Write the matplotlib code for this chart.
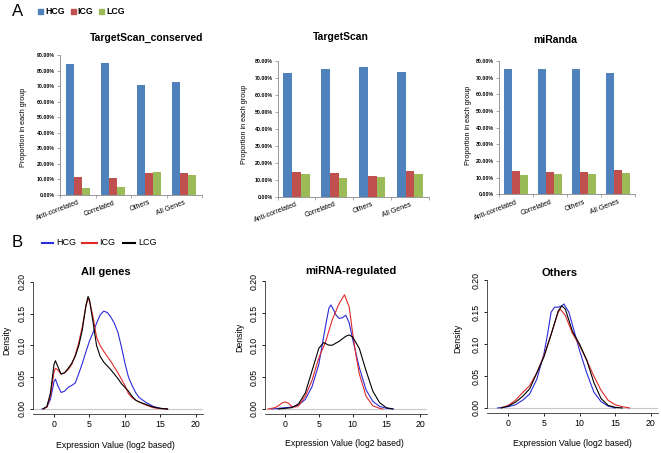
import numpy as np
import matplotlib
matplotlib.use("Agg")
import matplotlib.pyplot as plt
import matplotlib.transforms as mtransforms
from matplotlib.patches import Rectangle
from matplotlib.lines import Line2D

plt.rcParams['font.family'] = ['Liberation Sans', 'DejaVu Sans']

W, H = 661, 453

# ---- panel A data (percent) ----
categories = ['Anti-correlated', 'Correlated', 'Others', 'All Genes']
groups = ['HCG', 'ICG', 'LCG']
bar_colors = ['#4f81bd', '#c0504d', '#9bbb59']

ts_cons_hcg = [84.0, 84.6, 70.7, 72.4]
ts_cons_icg = [11.8, 10.7, 14.4, 14.4]
ts_cons_lcg = [4.3, 4.9, 15.0, 12.9]

ts_hcg = [72.9, 75.5, 76.3, 73.3]
ts_icg = [14.5, 13.9, 12.4, 14.9]
ts_lcg = [13.3, 11.2, 11.6, 13.3]

mir_hcg = [75.0, 75.0, 75.0, 73.0]
mir_icg = [14.0, 13.2, 13.2, 14.4]
mir_lcg = [11.4, 12.2, 12.2, 12.8]

# ---- panel B data (density curves) ----
all_hcg_x = [-1.7, -1, -0.5, 0, 0.2, 0.5, 1, 1.5, 2, 2.5, 3, 3.5, 4, 4.5, 5, 5.5, 6, 6.5, 7, 7.5,
             8, 8.5, 9, 9.5, 10, 10.5, 11, 11.5, 12, 13, 14, 15, 16]
all_hcg_y = [0, 0.003, 0.015, 0.043, 0.047, 0.038, 0.026, 0.028, 0.034, 0.037, 0.041, 0.056, 0.072,
             0.09, 0.107, 0.12, 0.135, 0.148, 0.154, 0.152, 0.145, 0.135, 0.121, 0.098, 0.072, 0.05,
             0.037, 0.026, 0.018, 0.01, 0.004, 0.001, 0]
all_icg_x = [-1.5, -1, -0.5, 0, 0.2, 0.5, 1, 1.5, 2, 2.5, 3, 3.5, 4, 4.5, 4.8, 5, 5.5, 6, 6.5, 7,
             7.5, 8, 8.5, 9, 9.5, 10, 10.5, 11, 11.5, 12, 13, 14, 15, 16]
all_icg_y = [0, 0.003, 0.02, 0.058, 0.064, 0.062, 0.055, 0.057, 0.062, 0.07, 0.085, 0.105, 0.13,
             0.162, 0.173, 0.17, 0.145, 0.113, 0.1, 0.091, 0.083, 0.075, 0.066, 0.057, 0.047, 0.037,
             0.024, 0.018, 0.014, 0.011, 0.006, 0.002, 0.0005, 0]
all_lcg_x = [-1.5, -1, -0.5, 0, 0.2, 0.5, 1, 1.5, 2, 2.5, 3, 3.5, 4, 4.5, 4.8, 5, 5.5, 6, 6.5, 7,
             7.5, 8, 8.5, 9, 9.5, 10, 10.5, 11, 11.5, 12, 13, 14, 15, 16]
all_lcg_y = [0, 0.004, 0.025, 0.07, 0.076, 0.068, 0.055, 0.057, 0.064, 0.072, 0.083, 0.1, 0.125,
             0.163, 0.177, 0.172, 0.137, 0.1, 0.083, 0.074, 0.068, 0.062, 0.055, 0.048, 0.04, 0.034,
             0.028, 0.02, 0.014, 0.011, 0.007, 0.003, 0.001, 0]

mir_hcg_x = [-2, 0, 1, 2, 3, 4, 5, 5.5, 6, 6.5, 6.8, 7.2, 7.5, 8, 8.5, 9, 9.5, 10, 11, 12, 13, 14, 15, 16]
mir_hcg_y = [0, 0.002, 0.003, 0.006, 0.015, 0.035, 0.07, 0.1, 0.13, 0.158, 0.163, 0.155, 0.148,
             0.142, 0.143, 0.147, 0.135, 0.11, 0.065, 0.03, 0.012, 0.004, 0.001, 0]
mir_icg_x = [-2.5, -1.5, -1, -0.5, 0, 0.5, 1, 1.5, 2, 3, 4, 5, 6, 7, 8, 8.8, 9.5, 10, 10.5, 11, 12,
             13, 14, 14.5]
mir_icg_y = [0, 0.002, 0.005, 0.009, 0.011, 0.009, 0.004, 0.003, 0.005, 0.02, 0.045, 0.08, 0.105,
             0.14, 0.165, 0.179, 0.16, 0.12, 0.085, 0.055, 0.02, 0.005, 0.001, 0]
mir_lcg_x = [-1, 0, 1, 2, 3, 4, 5, 5.7, 6.5, 7, 8, 9, 9.5, 10, 11, 12, 13, 14, 15, 16]
mir_lcg_y = [0, 0.001, 0.002, 0.008, 0.025, 0.06, 0.095, 0.104, 0.1, 0.1, 0.106, 0.114, 0.116,
             0.113, 0.095, 0.06, 0.028, 0.01, 0.002, 0]

oth_hcg_x = [-1.5, 0, 1, 2, 3, 4, 5, 5.5, 6, 6.5, 7, 7.5, 7.8, 8.5, 9, 10, 11, 12, 13, 14, 15]
oth_hcg_y = [0, 0.002, 0.005, 0.012, 0.022, 0.045, 0.085, 0.115, 0.15, 0.158, 0.158, 0.16, 0.163,
             0.15, 0.13, 0.09, 0.055, 0.025, 0.01, 0.003, 0]
oth_icg_x = [-1, 0, 1, 2, 3, 4, 5, 6, 7, 7.3, 8, 9, 10, 11, 12, 13, 14, 15, 16, 17]
oth_icg_y = [0, 0.004, 0.012, 0.024, 0.035, 0.055, 0.082, 0.115, 0.15, 0.155, 0.145, 0.117, 0.098,
             0.075, 0.05, 0.028, 0.012, 0.005, 0.002, 0]
oth_lcg_x = [-1, 0, 1, 2, 3, 4, 5, 6, 7, 7.5, 8, 9, 10, 11, 12, 13, 14, 15, 16]
oth_lcg_y = [0, 0.003, 0.009, 0.018, 0.03, 0.055, 0.08, 0.115, 0.152, 0.16, 0.155, 0.12, 0.1,
             0.075, 0.04, 0.015, 0.004, 0.001, 0]

line_colors = ['#2b2bd9', '#e02a2a', '#000000']

fig = plt.figure(figsize=(W / 100, H / 100), dpi=100)


def px(l, t, r, b):
    return [l / W, 1 - b / H, (r - l) / W, (b - t) / H]


def ftext(x, y, s, **kw):
    fig.text(x / W, 1 - y / H, s, **kw)


# ---------------- panel A ----------------
bar_specs = [
    ('TargetScan_conserved', (60, 55, 202, 195), 90, [ts_cons_hcg, ts_cons_icg, ts_cons_lcg], (147, 38), (24, 127)),
    ('TargetScan', (277.5, 61, 429, 196.7), 80, [ts_hcg, ts_icg, ts_lcg], (341, 37), (244, 124)),
    ('miRanda', (499, 61, 635, 194.3), 80, [mir_hcg, mir_icg, mir_lcg], (555, 40), (468, 125)),
]
bw = 0.23
for title, box, ymax, series, tpos, ylpos in bar_specs:
    ax = fig.add_axes(px(*box))
    xs = np.arange(len(categories))
    for i, vals in enumerate(series):
        ax.bar(xs + (i - 1) * bw, vals, width=bw, color=bar_colors[i], edgecolor='none')
    ax.set_xlim(-0.5, 3.5)
    ax.set_ylim(0, ymax)
    ax.set_yticks(np.arange(0, ymax + 1, 10))
    ax.set_yticklabels(['%.2f%%' % v for v in np.arange(0, ymax + 1, 10)], fontsize=3.8, fontweight='bold')
    ax.set_xticks(xs)
    ax.set_xticklabels(categories, fontsize=5, rotation=21, ha='right', rotation_mode='anchor')
    off = mtransforms.ScaledTranslation(5 / 100, 0, fig.dpi_scale_trans)
    for lab in ax.get_xticklabels():
        lab.set_transform(lab.get_transform() + off)
    ax.set_xticks(np.arange(-0.5, 3.6, 1), minor=True)
    ax.tick_params(axis='x', which='major', length=0, pad=3)
    ax.tick_params(axis='x', which='minor', length=2, width=0.5, color='#888888')
    ax.tick_params(axis='y', length=2, width=0.5, color='#888888', pad=1.5)
    for s in ['top', 'right']:
        ax.spines[s].set_visible(False)
    for s in ['left', 'bottom']:
        ax.spines[s].set_color('#888888')
        ax.spines[s].set_linewidth(0.6)
    ftext(tpos[0], tpos[1], title, fontsize=7.5, fontweight='bold', ha='center', va='center')
    ftext(ylpos[0], ylpos[1], 'Proportion in each group', fontsize=5.2, rotation=90, ha='center', va='center')

# legend A
ftext(18, 12, 'A', fontsize=12, ha='center', va='center')
leg_a = [(38, 45), (71, 77), (99, 106)]
for (sx, tx), name, c in zip(leg_a, groups, bar_colors):
    fig.patches.append(Rectangle((sx / W, 1 - 14 / H), 5 / W, 5 / H, transform=fig.transFigure,
                                 color=c, figure=fig))
    ftext(tx, 11.5, name, fontsize=6.3, fontweight='bold', ha='left', va='center')

# ---------------- panel B ----------------
dens_specs = [
    ('All genes', (32.7, 275.6, 203, 414), [(all_hcg_x, all_hcg_y), (all_icg_x, all_icg_y), (all_lcg_x, all_lcg_y)],
     (106, 272), (7, 340), (115, 445)),
    ('miRNA-regulated', (264.8, 275, 426.8, 414), [(mir_hcg_x, mir_hcg_y), (mir_icg_x, mir_icg_y), (mir_lcg_x, mir_lcg_y)],
     (351, 271), (240, 337), (344, 443)),
    ('Others', (486.9, 274, 658, 413), [(oth_hcg_x, oth_hcg_y), (oth_icg_x, oth_icg_y), (oth_lcg_x, oth_lcg_y)],
     (560, 273), (458, 338), (572, 443)),
]
for title, box, curves, tpos, dpos, xpos in dens_specs:
    ax = fig.add_axes(px(*box))
    ax.axhline(0, color='#c8c8c8', lw=0.8, zorder=1)
    for (cx, cy), c in zip(curves, line_colors):
        ax.plot(cx, cy, color=c, lw=0.8, zorder=2)
    ax.set_xlim(-3, 21)
    ax.set_ylim(-0.0079, 0.21)
    ax.set_xticks([0, 5, 10, 15, 20])
    ax.set_yticks([0, 0.05, 0.1, 0.15, 0.2])
    ax.set_yticklabels(['0.00', '0.05', '0.10', '0.15', '0.20'], rotation=90, va='center')
    ax.tick_params(labelsize=6.3, length=2.5, width=0.6, pad=2)
    ax.spines['left'].set_bounds(0, 0.2)
    for s in ['top', 'right']:
        ax.spines[s].set_visible(False)
    for s in ['left', 'bottom']:
        ax.spines[s].set_linewidth(0.6)
        ax.spines[s].set_color('#333333')
    ftext(tpos[0], tpos[1], title, fontsize=8, fontweight='bold', ha='center', va='center')
    ftext(dpos[0], dpos[1], 'Density', fontsize=6.3, rotation=90, ha='center', va='center')
    ftext(xpos[0], xpos[1], 'Expression Value (log2 based)', fontsize=6.3, ha='center', va='center')

# legend B
ftext(17, 243, 'B', fontsize=12, ha='center', va='center')
leg_b = [(42, 53, 56), (82, 97, 99), (123, 135, 138)]
for (x0, x1, tx), name, c in zip(leg_b, groups, line_colors):
    fig.lines.append(Line2D([x0 / W, x1 / W], [1 - 243 / H, 1 - 243 / H], transform=fig.transFigure,
                            color=c, lw=1.5, figure=fig))
    ftext(tx, 243, name, fontsize=6.5, ha='left', va='center')

fig.savefig('out.png', dpi=100)
